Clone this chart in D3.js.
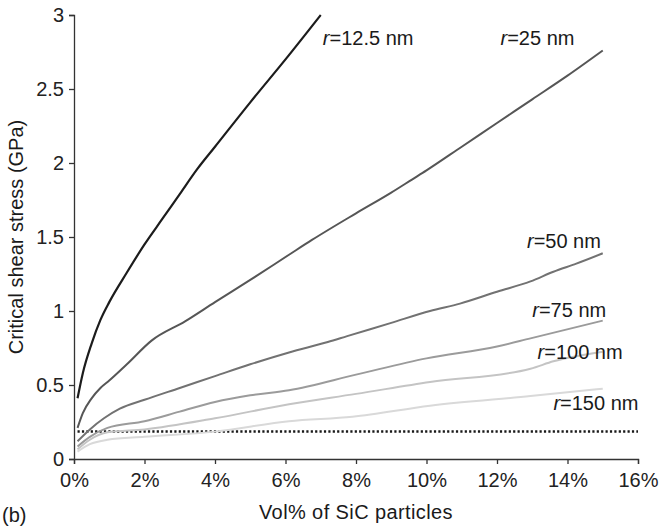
<!DOCTYPE html>
<html>
<head>
<meta charset="utf-8">
<script src="https://cdn.jsdelivr.net/npm/d3@7"></script>
<style>
  html, body { margin: 0; padding: 0; background: #fff; }
  svg { display: block; font-family: "Liberation Sans", Arial, Helvetica, sans-serif; }
</style>
</head>
<body>
<svg id="chart" width="660" height="529"></svg>
<script>
// Critical shear stress vs SiC volume fraction, for several particle radii
const xTicks = [0, 2, 4, 6, 8, 10, 12, 14, 16];
const yTicks = [0, 0.5, 1, 1.5, 2, 2.5, 3];
const radii = ["12.5", "25", "50", "75", "100", "150"];

const vol_r12_5 = [0.1, 0.25, 0.5, 0.75, 1, 1.5, 2, 2.5, 3, 3.5, 4, 5, 6, 7];
const tau_r12_5 = [0.41, 0.58, 0.78, 0.94, 1.06, 1.26, 1.45, 1.62, 1.79, 1.96, 2.11, 2.41, 2.70, 3.0];

const vol_r25 = [0.1, 0.25, 0.5, 0.75, 1, 1.5, 2.2, 3.15, 4, 5, 6.1, 6.75, 8, 9, 9.6, 10, 11, 12, 13, 14, 15];
const tau_r25 = [0.21, 0.31, 0.41, 0.48, 0.53, 0.64, 0.80, 0.93, 1.06, 1.21, 1.38, 1.48, 1.66, 1.80, 1.89, 1.95, 2.11, 2.27, 2.43, 2.59, 2.76];

const vol_r50 = [0.1, 0.45, 0.85, 1.3, 2, 3, 4, 5, 6.1, 7.2, 7.75, 9, 10.1, 10.95, 12, 12.95, 13.6, 14.25, 15];
const tau_r50 = [0.12, 0.20, 0.275, 0.34, 0.40, 0.48, 0.56, 0.64, 0.72, 0.79, 0.83, 0.92, 1.0, 1.05, 1.13, 1.20, 1.265, 1.32, 1.39];

const vol_r75 = [0.1, 0.45, 0.95, 2, 3, 4, 5, 6.1, 8, 10, 12, 12.95, 15];
const tau_r75 = [0.085, 0.15, 0.21, 0.255, 0.32, 0.385, 0.43, 0.465, 0.57, 0.68, 0.76, 0.815, 0.935];

const vol_r100 = [0.1, 0.45, 0.95, 2, 4, 6.1, 8, 10.1, 12.95, 13.6, 15];
const tau_r100 = [0.065, 0.13, 0.18, 0.20, 0.275, 0.37, 0.44, 0.52, 0.61, 0.66, 0.725];

const vol_r150 = [0.1, 0.45, 0.95, 2, 4, 6.1, 7.9, 10.1, 12.95, 15];
const tau_r150 = [0.05, 0.10, 0.13, 0.15, 0.185, 0.255, 0.285, 0.36, 0.425, 0.475];

// reference stress level (dotted)
const refVol = [0.1, 16];
const refTau = [0.186, 0.186];

const seriesVol = [vol_r12_5, vol_r25, vol_r50, vol_r75, vol_r100, vol_r150];
const seriesTau = [tau_r12_5, tau_r25, tau_r50, tau_r75, tau_r100, tau_r150];
const colors = ["#1c1c1c", "#565656", "#727272", "#9b9b9b", "#c4c4c4", "#d9d9d9"];
// label anchors in data units (vol %, GPa)
const labelVol = [7.06, 12.1, 12.85, 13.0, 13.15, 13.6];
const labelTau = [2.80, 2.80, 1.425, 0.96, 0.676, 0.33];

const svg = d3.select("#chart");
const x = d3.scaleLinear().domain([0, 16]).range([74, 638]);
const y = d3.scaleLinear().domain([0, 3]).range([459, 15]);

const fontSize = 20;
const axisColor = "#333";

// x axis
const gx = svg.append("g").attr("transform", `translate(0,${y(0)})`)
  .call(d3.axisBottom(x).tickValues(xTicks).tickFormat(d => d + "%").tickSize(5).tickPadding(9));
// y axis
const gy = svg.append("g").attr("transform", `translate(${x(0)},0)`)
  .call(d3.axisLeft(y).tickValues(yTicks).tickFormat(d => String(d)).tickSize(5).tickPadding(5));

[gx, gy].forEach(g => {
  g.select(".domain").attr("stroke", axisColor).attr("stroke-width", 1.3);
  g.selectAll(".tick line").attr("stroke", axisColor).attr("stroke-width", 1.3);
  g.selectAll(".tick text").attr("fill", "#222").style("font-size", fontSize + "px")
    .style("font-family", "'Liberation Sans', Arial, sans-serif");
});

// dotted reference line
svg.append("path")
  .datum(refVol.map((v, i) => [v, refTau[i]]))
  .attr("fill", "none")
  .attr("stroke", "#1a1a1a")
  .attr("stroke-width", 2.6)
  .attr("stroke-dasharray", "2.2,2.2")
  .attr("d", d3.line().x(d => x(d[0])).y(d => y(d[1])));

// curves
const line = d3.line().x(d => x(d[0])).y(d => y(d[1])).curve(d3.curveMonotoneX);
seriesVol.forEach((vols, i) => {
  svg.append("path")
    .datum(vols.map((v, j) => [v, seriesTau[i][j]]))
    .attr("fill", "none")
    .attr("stroke", colors[i])
    .attr("stroke-width", i === 0 ? 2.2 : 2)
    .attr("stroke-linejoin", "round")
    .attr("d", line);
});

// curve labels
radii.forEach((r, i) => {
  const t = svg.append("text")
    .attr("x", x(labelVol[i]))
    .attr("y", y(labelTau[i]))
    .attr("fill", "#1a1a1a")
    .style("font-size", fontSize + "px");
  t.append("tspan").style("font-style", "italic").text("r");
  t.append("tspan").text("=" + r + " nm");
});

// axis titles
svg.append("text")
  .attr("x", x(8)).attr("y", 519)
  .attr("text-anchor", "middle")
  .attr("fill", "#1a1a1a")
  .style("font-size", fontSize + "px")
  .style("letter-spacing", "0.4px")
  .text("Vol% of SiC particles");

svg.append("text")
  .attr("transform", `translate(23,${(y(0) + y(3)) / 2}) rotate(-90)`)
  .attr("text-anchor", "middle")
  .attr("fill", "#1a1a1a")
  .style("font-size", fontSize + "px")
  .text("Critical shear stress (GPa)");

// panel tag
svg.append("text")
  .attr("x", 2).attr("y", 522)
  .attr("fill", "#1a1a1a")
  .style("font-size", fontSize + "px")
  .text("(b)");
</script>
</body>
</html>
